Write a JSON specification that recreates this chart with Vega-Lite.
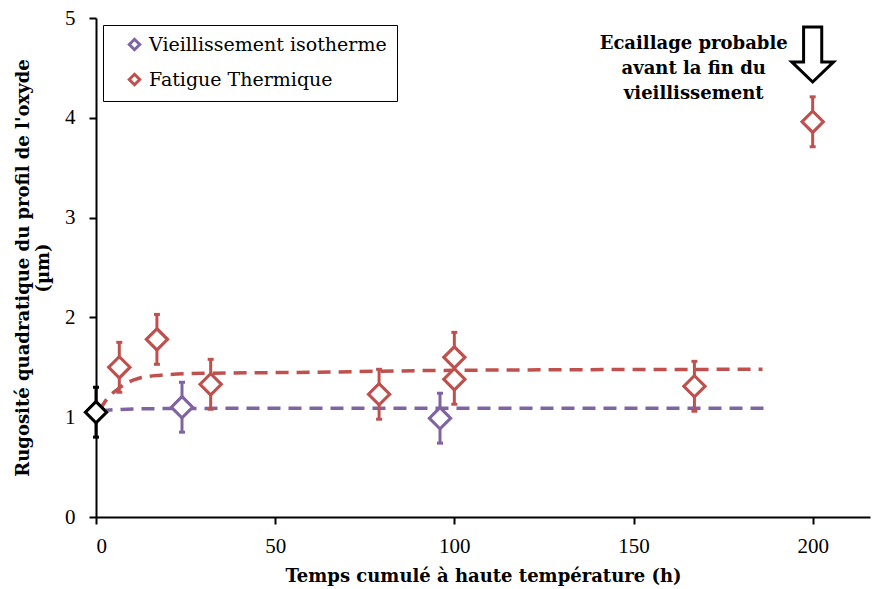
{
  "$schema": "https://vega.github.io/schema/vega-lite/v6.json",
  "width": 774,
  "height": 499,
  "autosize": "none",
  "padding": {"left": 96, "top": 18, "right": 2, "bottom": 72},
  "background": "white",
  "config": {
    "view": {"stroke": null},
    "font": "Liberation Serif",
    "axis": {
      "grid": false,
      "domainColor": "black",
      "domainWidth": 2,
      "tickColor": "black",
      "tickWidth": 2,
      "tickSize": 7,
      "labelFont": "Liberation Serif",
      "labelFontSize": 21,
      "labelColor": "black",
      "titleFont": "DejaVu Serif",
      "titleFontSize": 18,
      "titleFontWeight": "bold",
      "titleColor": "black"
    }
  },
  "datasets": {
    "pts": [
      {"t": 0, "r": 1.05, "lo": 0.8, "hi": 1.3, "serie": "Initial"},
      {"t": 24, "r": 1.1, "lo": 0.85, "hi": 1.35, "serie": "Vieillissement isotherme"},
      {"t": 96, "r": 0.99, "lo": 0.74, "hi": 1.24, "serie": "Vieillissement isotherme"},
      {"t": 6.5, "r": 1.5, "lo": 1.25, "hi": 1.75, "serie": "Fatigue Thermique"},
      {"t": 17, "r": 1.78, "lo": 1.53, "hi": 2.03, "serie": "Fatigue Thermique"},
      {"t": 32, "r": 1.33, "lo": 1.08, "hi": 1.58, "serie": "Fatigue Thermique"},
      {"t": 79, "r": 1.23, "lo": 0.98, "hi": 1.48, "serie": "Fatigue Thermique"},
      {"t": 100, "r": 1.6, "lo": 1.35, "hi": 1.85, "serie": "Fatigue Thermique"},
      {"t": 100, "r": 1.38, "lo": 1.13, "hi": 1.63, "serie": "Fatigue Thermique"},
      {"t": 167, "r": 1.31, "lo": 1.06, "hi": 1.56, "serie": "Fatigue Thermique"},
      {"t": 200, "r": 3.96, "lo": 3.71, "hi": 4.21, "serie": "Fatigue Thermique"}
    ],
    "fits": [
      {"t": 1, "r": 1.07, "serie": "Fatigue Thermique"},
      {"t": 3, "r": 1.18, "serie": "Fatigue Thermique"},
      {"t": 6, "r": 1.28, "serie": "Fatigue Thermique"},
      {"t": 9, "r": 1.35, "serie": "Fatigue Thermique"},
      {"t": 12, "r": 1.39, "serie": "Fatigue Thermique"},
      {"t": 18, "r": 1.42, "serie": "Fatigue Thermique"},
      {"t": 30, "r": 1.44, "serie": "Fatigue Thermique"},
      {"t": 60, "r": 1.45, "serie": "Fatigue Thermique"},
      {"t": 100, "r": 1.47, "serie": "Fatigue Thermique"},
      {"t": 186, "r": 1.48, "serie": "Fatigue Thermique"},
      {"t": 1, "r": 1.06, "serie": "Vieillissement isotherme"},
      {"t": 5, "r": 1.075, "serie": "Vieillissement isotherme"},
      {"t": 15, "r": 1.085, "serie": "Vieillissement isotherme"},
      {"t": 50, "r": 1.09, "serie": "Vieillissement isotherme"},
      {"t": 187, "r": 1.09, "serie": "Vieillissement isotherme"}
    ],
    "note": [
      {"t": 166.8, "r": 4.83, "txt": ["Ecaillage probable", "avant la fin du", "vieillissement"]}
    ],
    "arrow": [
      {"t": 200, "r": 4.634}
    ]
  },
  "layer": [
    {
      "data": {"name": "pts"},
      "mark": {"type": "point", "shape": "diamond", "size": 440, "filled": false, "fill": "white", "fillOpacity": 1, "strokeWidth": 3, "opacity": 1},
      "encoding": {
        "x": {"field": "t", "type": "quantitative", "scale": {"domain": [0, 216], "nice": false},
          "axis": {"values": [0, 50, 100, 150, 200], "title": "Temps cumulé à haute température (h)", "titlePadding": 11, "labelPadding": 11}},
        "y": {"field": "r", "type": "quantitative", "scale": {"domain": [0, 5], "nice": false},
          "axis": {"values": [0, 1, 2, 3, 4, 5], "format": "d", "title": ["Rugosité quadratique du profil de l'oxyde", "(µm)"], "titlePadding": 12, "labelPadding": 14}},
        "color": {"field": "serie", "type": "nominal",
          "scale": {"domain": ["Vieillissement isotherme", "Fatigue Thermique", "Initial"], "range": ["#8064A2", "#C0504D", "#000000"]},
          "legend": {
            "values": ["Vieillissement isotherme", "Fatigue Thermique"],
            "title": null,
            "orient": "none",
            "legendX": 7,
            "legendY": 7,
            "strokeColor": "black",
            "padding": 10,
            "labelFont": "DejaVu Serif",
            "labelFontSize": 19,
            "labelColor": "black",
            "labelLimit": 400,
            "symbolType": "diamond",
            "symbolSize": 110,
            "symbolStrokeWidth": 3,
            "symbolFillColor": "white",
            "symbolOpacity": 1,
            "symbolOffset": 12,
            "rowPadding": 12,
            "labelOffset": 5,
            "offset": 0
          }
        }
      }
    },
    {
      "data": {"name": "fits"},
      "mark": {"type": "line", "strokeWidth": 3.5, "strokeDash": [13, 8], "interpolate": "monotone"},
      "encoding": {
        "x": {"field": "t", "type": "quantitative"},
        "y": {"field": "r", "type": "quantitative"},
        "color": {"field": "serie", "type": "nominal"}
      }
    },
    {
      "data": {"name": "pts"},
      "mark": {"type": "rule", "strokeWidth": 3},
      "encoding": {
        "x": {"field": "t", "type": "quantitative"},
        "y": {"field": "lo", "type": "quantitative"},
        "y2": {"field": "hi"},
        "color": {"field": "serie", "type": "nominal"}
      }
    },
    {
      "data": {"name": "pts"},
      "mark": {"type": "point", "shape": "M-1,0L1,0", "size": 36, "filled": false, "strokeWidth": 3, "opacity": 1},
      "encoding": {
        "x": {"field": "t", "type": "quantitative"},
        "y": {"field": "lo", "type": "quantitative"},
        "color": {"field": "serie", "type": "nominal"}
      }
    },
    {
      "data": {"name": "pts"},
      "mark": {"type": "point", "shape": "M-1,0L1,0", "size": 36, "filled": false, "strokeWidth": 3, "opacity": 1},
      "encoding": {
        "x": {"field": "t", "type": "quantitative"},
        "y": {"field": "hi", "type": "quantitative"},
        "color": {"field": "serie", "type": "nominal"}
      }
    },
    {
      "data": {"name": "pts"},
      "mark": {"type": "point", "shape": "diamond", "size": 440, "filled": false, "fill": "white", "fillOpacity": 1, "strokeWidth": 3, "opacity": 1},
      "encoding": {
        "x": {"field": "t", "type": "quantitative"},
        "y": {"field": "r", "type": "quantitative"},
        "color": {"field": "serie", "type": "nominal"}
      }
    },
    {
      "data": {"name": "note"},
      "mark": {"type": "text", "font": "DejaVu Serif", "fontSize": 18, "fontWeight": "bold", "align": "center", "baseline": "top", "lineHeight": 25, "color": "black"},
      "encoding": {
        "x": {"field": "t", "type": "quantitative"},
        "y": {"field": "r", "type": "quantitative"},
        "text": {"field": "txt"}
      }
    },
    {
      "data": {"name": "arrow"},
      "mark": {"type": "point", "shape": "M-0.33,-1 L0.33,-1 L0.33,0.27 L0.76,0.27 L0,1 L-0.76,0.27 L-0.33,0.27 Z", "size": 3025, "filled": false, "fill": "white", "fillOpacity": 1, "stroke": "black", "strokeWidth": 3, "opacity": 1},
      "encoding": {
        "x": {"field": "t", "type": "quantitative"},
        "y": {"field": "r", "type": "quantitative"}
      }
    }
  ]
}
